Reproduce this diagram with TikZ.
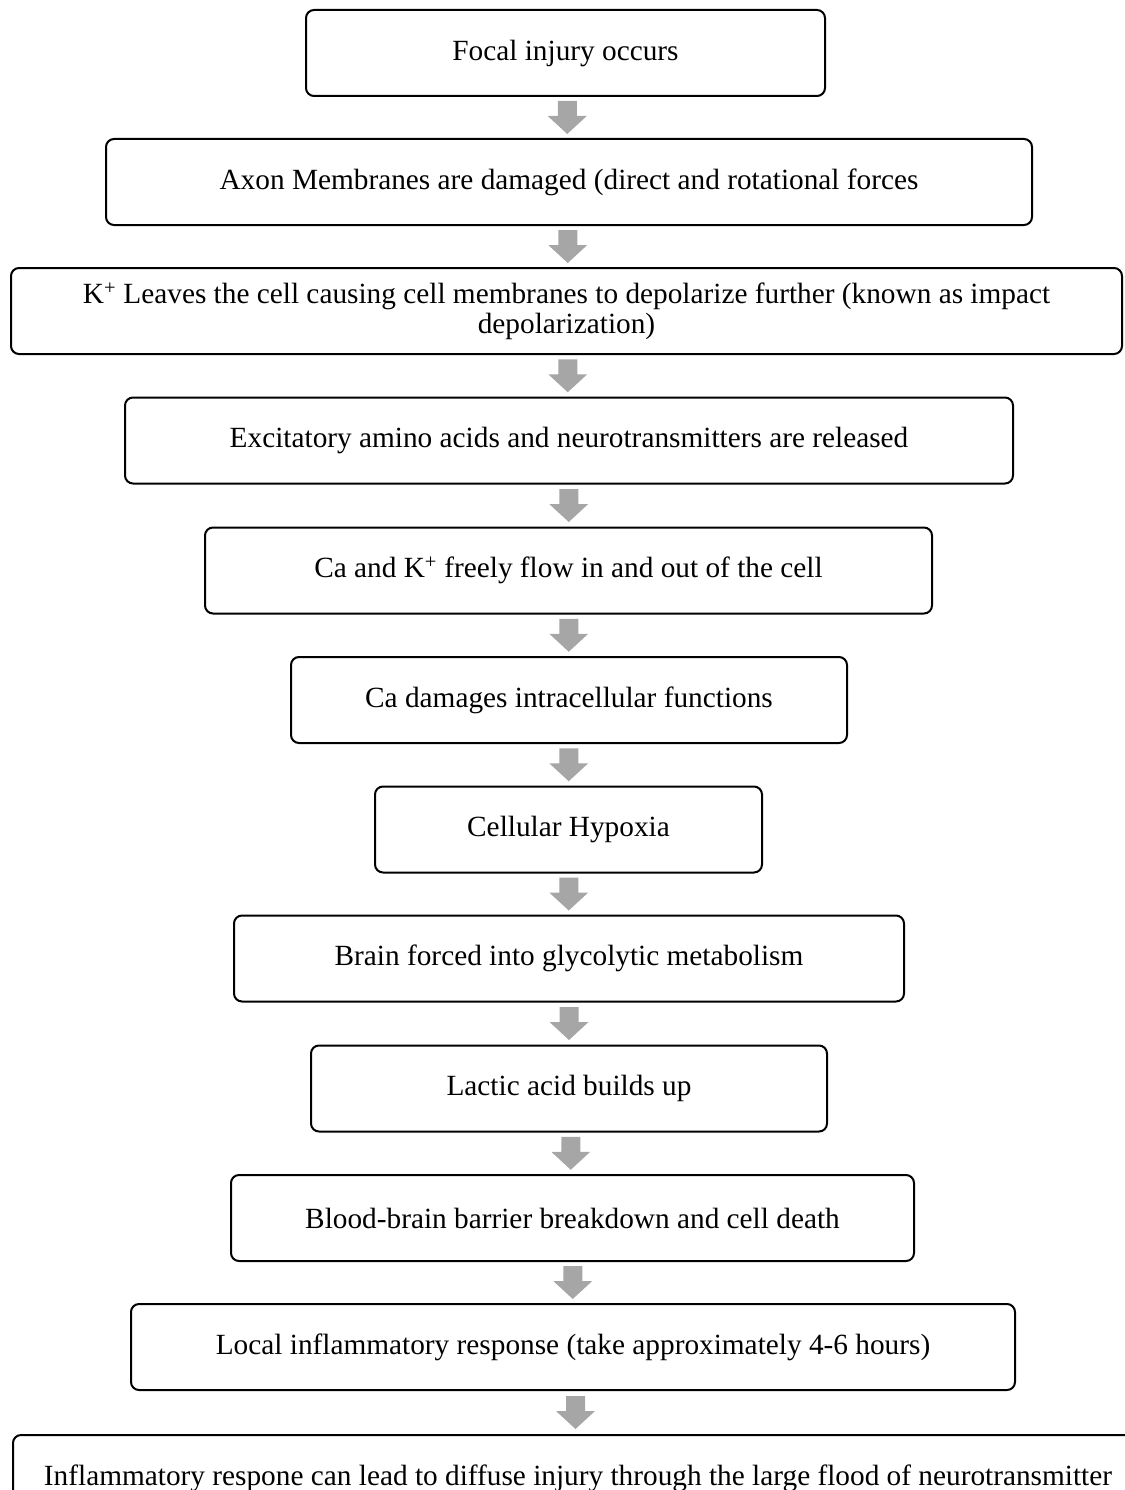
\documentclass[tikz,border=0pt]{standalone}
\usepackage{fontspec}
\setmainfont{Liberation Serif}
\usetikzlibrary{calc}

\definecolor{arrowgray}{RGB}{166,166,166}
\tikzset{
  stepbox/.style={draw=black, line width=2pt, rounded corners=8pt, minimum height=86pt,
    inner sep=0pt, align=center, font=\fontsize{29.3}{30}\selectfont},
  downarrow/.pic={\fill[arrowgray] (-9.5,-16.5) -- (9.5,-16.5) -- (9.5,-1.5) -- (19.5,-1.5)
    -- (0,16.5) -- (-19.5,-1.5) -- (-9.5,-1.5) -- cycle;}
}

\begin{document}
\begin{tikzpicture}[x=1pt,y=-1pt]
        \useasboundingbox (0,0) rectangle (1124,1490);
        \node[stepbox, minimum width=519pt] (focal) at (565.5,53) {Focal injury occurs};
        \node[stepbox, minimum width=926pt] (axon) at (569,182) {Axon Membranes are damaged (direct and rotational forces};
        \node[stepbox, minimum width=1111pt] (potassium) at (566.5,311) {K\textsuperscript{+} Leaves the cell causing cell membranes to depolarize further (known as impact\\depolarization)};
        \node[stepbox, minimum width=888pt] (excite) at (569,440.5) {Excitatory amino acids and neurotransmitters are released};
        \node[stepbox, minimum width=727pt] (flow) at (568.5,570.5) {Ca and K\textsuperscript{+} freely flow in and out of the cell};
        \node[stepbox, minimum width=556pt] (calcium) at (569,700) {Ca damages intracellular functions};
        \node[stepbox, minimum width=387pt] (hypoxia) at (568.5,829.5) {Cellular Hypoxia};
        \node[stepbox, minimum width=670pt] (glyco) at (569,958.5) {Brain forced into glycolytic metabolism};
        \node[stepbox, minimum width=516pt] (lactic) at (569,1088.5) {Lactic acid builds up};
        \node[stepbox, minimum width=683pt] (barrier) at (572.5,1218) {Blood-brain barrier breakdown and cell death};
        \node[stepbox, minimum width=884pt] (local) at (573,1347) {Local inflammatory response (take approximately 4-6 hours)};
        \node[stepbox, minimum width=1130pt] (diffuse) at (578,1478) {Inflammatory respone can lead to diffuse injury through the large flood of neurotransmitter};
        % arrows between the steps
        \foreach \a/\b [count=\i] in {focal/axon,axon/potassium,potassium/excite,excite/flow,flow/calcium,
            calcium/hypoxia,hypoxia/glyco,glyco/lactic,lactic/barrier,barrier/local,local/diffuse}{
          \path (\a.south) -- (\b.north) coordinate[midway] (arr\i);
          \pic at (arr\i) {downarrow};
        }
\end{tikzpicture}
\end{document}
